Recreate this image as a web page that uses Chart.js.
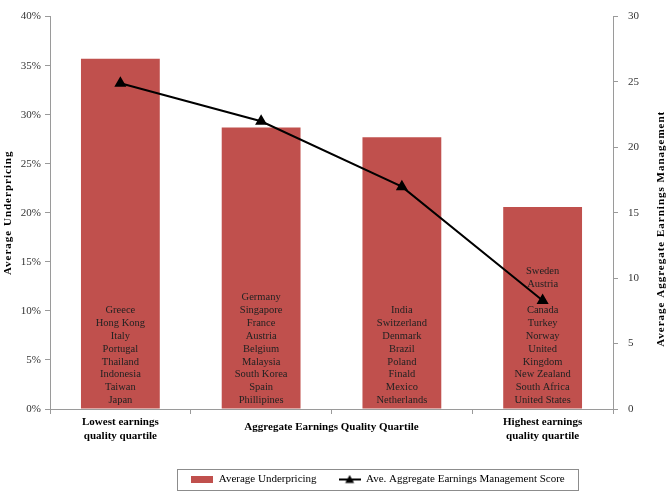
<!DOCTYPE html>
<html><head><meta charset="utf-8">
<script src="https://cdn.jsdelivr.net/npm/chart.js@4"></script>
<style>html,body{margin:0;padding:0;background:#fff}#wrap{width:670px;height:493px;position:relative}</style>
</head><body><div id="wrap"><canvas id="c"></canvas></div>
<script>
const categories = [['Lowest earnings','quality quartile'], '', '', ['Highest earnings','quality quartile']];
const underpricing = [35.7, 28.7, 27.7, 20.6];
const emScore = [24.9, 22.0, 17.0, 8.3];
const countries = [
  ['Greece','Hong Kong','Italy','Portugal','Thailand','Indonesia','Taiwan','Japan'],
  ['Germany','Singapore','France','Austria','Belgium','Malaysia','South Korea','Spain','Phillipines'],
  ['India','Switzerland','Denmark','Brazil','Poland','Finald','Mexico','Netherlands'],
  ['Sweden','Austria','','Canada','Turkey','Norway','United','Kingdom','New Zealand','South Africa','United States']
];
const xAxisTitle = 'Aggregate Earnings Quality Quartile';
const leftTitle = 'Average Underpricing';
const rightTitle = 'Average Aggregate Earnings Management';
const seriesNames = ['Average Underpricing', 'Ave. Aggregate Earnings Management Score'];

const FONT = "'Liberation Serif', 'Times New Roman', serif";
const RED = '#C0504D';
const AXIS = '#9a9a9a';

function makeSwatch(kind){
  const c = document.createElement('canvas');
  if(kind==='bar'){ c.width=22; c.height=7; const x=c.getContext('2d'); x.fillStyle=RED; x.fillRect(0,0,22,7); }
  else { c.width=22; c.height=10; const x=c.getContext('2d'); x.strokeStyle='#000'; x.lineWidth=2; x.beginPath(); x.moveTo(0,5); x.lineTo(22,5); x.stroke();
    x.fillStyle='#000'; x.beginPath(); x.moveTo(11,0.5); x.lineTo(15.5,8.5); x.lineTo(6.5,8.5); x.closePath(); x.fill(); }
  return c;
}
const swatches = [makeSwatch('bar'), makeSwatch('line')];

const countryPlugin = {
  id:'countries',
  afterDatasetsDraw(chart){
    const meta = chart.getDatasetMeta(0);
    const ctx = chart.ctx;
    ctx.save();
    ctx.font = '10.5px ' + FONT;
    ctx.fillStyle = '#222';
    ctx.textAlign = 'center';
    ctx.textBaseline = 'middle';
    meta.data.forEach((el,i)=>{
      const list = countries[i]; const n = list.length;
      list.forEach((name,j)=>{
        ctx.fillText(name, el.x, el.base - 8 - (n-1-j)*12.9);
      });
    });
    ctx.restore();
  }
};
const layoutPlugin = {
  id:'legendShift',
  afterLayout(chart){
    const lg = chart.legend;
    if(lg){ lg.left += 43; lg.right += 43; lg.top += 2; lg.bottom += 2; }
  }
};
const extrasPlugin = {
  id:'extras',
  afterDraw(chart){
    const ctx = chart.ctx; const a = chart.chartArea;
    ctx.save();
    ctx.font = 'bold 11px ' + FONT;
    ctx.fillStyle = '#000';
    ctx.textAlign = 'center'; ctx.textBaseline = 'middle';
    ctx.fillText(xAxisTitle, (a.left + a.right)/2, a.bottom + 18);
    // rotated axis titles with Excel-like wide spacing
    ctx.letterSpacing = '1px';
    const midY = (a.top + a.bottom)/2;
    ctx.save(); ctx.translate(8.5, midY); ctx.rotate(-Math.PI/2); ctx.fillText(leftTitle, 0, 0); ctx.restore();
    ctx.save(); ctx.translate(a.right + 48, midY + 16); ctx.rotate(-Math.PI/2); ctx.fillText(rightTitle, 0, 0); ctx.restore();
    ctx.letterSpacing = '0px';
    const lg = chart.legend;
    if(lg && lg.legendHitBoxes && lg.legendHitBoxes.length){
      let l = Infinity, r = -Infinity, t = Infinity, b = -Infinity;
      lg.legendHitBoxes.forEach(h=>{ l=Math.min(l,h.left); r=Math.max(r,h.left+h.width); t=Math.min(t,h.top); b=Math.max(b,h.top+h.height); });
      ctx.strokeStyle = '#8c8c8c'; ctx.lineWidth = 1;
      ctx.strokeRect(Math.round(l-14)+0.5, Math.round(t-5)+0.5, Math.round(r-l+28), Math.round(b-t+10));
    }
    ctx.restore();
  }
};

new Chart(document.getElementById('c'), {
  data: {
    labels: categories,
    datasets: [
      { type:'bar', label: seriesNames[0], data: underpricing, backgroundColor: RED, yAxisID:'y', order:1,
        categoryPercentage:1, barPercentage:0.56 },
      { type:'line', label: seriesNames[1], data: emScore, yAxisID:'y1', order:0,
        borderColor:'#000', borderWidth:2, pointStyle:'triangle', pointRadius:5, pointBackgroundColor:'#000', pointBorderColor:'#000', tension:0 }
    ]
  },
  options: {
    responsive:true, maintainAspectRatio:false, animation:false,
    layout:{ padding:{ top:12, left:0, right:0, bottom:0 } },
    plugins:{
      tooltip:{enabled:false},
      legend:{ position:'bottom',
        labels:{ font:{family:FONT, size:11}, color:'#000', usePointStyle:true, pointStyleWidth:22, boxHeight:8, padding:22,
          generateLabels(chart){
            return chart.data.datasets.map((d,i)=>({ text:d.label, pointStyle:swatches[i], datasetIndex:i, hidden:false, lineWidth:0, fillStyle:'transparent', strokeStyle:'transparent', fontColor:'#000' }));
          } } }
    },
    scales:{
      x:{ offset:true,
        grid:{ offset:true, drawOnChartArea:false, drawTicks:true, tickLength:5, color:AXIS },
        border:{ color:AXIS },
        ticks:{ font:{family:FONT, size:11, weight:'bold'}, color:'#000', maxRotation:0, autoSkip:false, padding:2 },
        afterFit(s){ s.height = 41; }
      },
      y:{ position:'left', min:0, max:40,
        ticks:{ stepSize:5, callback:v=>v+'%', font:{family:FONT, size:11}, color:'#333', padding:4 },
        grid:{ drawOnChartArea:false, tickLength:5, color:AXIS },
        border:{ color:AXIS },
        afterFit(s){ s.width = 50; }
      },
      y1:{ position:'right', min:0, max:30,
        ticks:{ stepSize:5, font:{family:FONT, size:11}, color:'#333', padding:10 },
        grid:{ drawOnChartArea:false, tickLength:5, color:AXIS },
        border:{ color:AXIS },
        afterFit(s){ s.width = 57; }
      }
    }
  },
  plugins:[layoutPlugin, countryPlugin, extrasPlugin]
});
</script>
</body></html>
